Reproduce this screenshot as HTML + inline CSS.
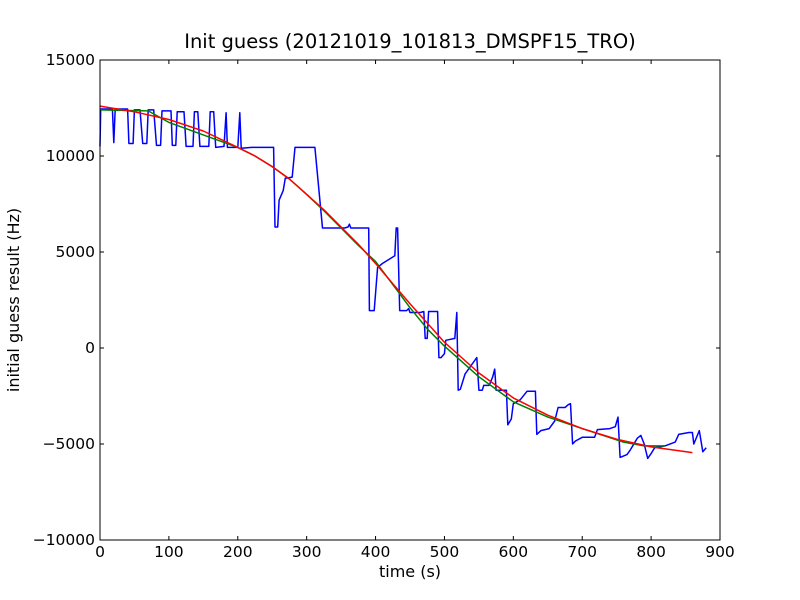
<!DOCTYPE html>
<html><head><meta charset="utf-8"><style>
body{margin:0;background:#fff}
svg{display:block;font-family:"DejaVu Sans","Liberation Sans",sans-serif}
</style></head><body>
<svg id="chart" width="800" height="600" viewBox="0 0 800 600">
<rect width="800" height="600" fill="#fff"/>
<text x="410" y="48" font-size="19.5" text-anchor="middle">Init guess (20121019_101813_DMSPF15_TRO)</text>
<g id="plot"></g>
<rect x="100" y="60" width="620" height="480" fill="none" stroke="#000" stroke-width="1"/>
<text x="410" y="577" font-size="16" text-anchor="middle">time (s)</text>
<text transform="translate(19,300) rotate(-90)" font-size="16" text-anchor="middle">initial guess result (Hz)</text>
</svg>
<script>
const xTicks=[0,100,200,300,400,500,600,700,800,900];
const yTicks=[15000,10000,5000,0,-5000,-10000];
const yTickLabels=["15000","10000","5000","0","\u22125000","\u221210000"];
const blueT=[0,1,18,20,22,40,42,48,50,58,62,68,70,78,82,88,90,103,105,110,112,122,125,135,137,142,145,158,160,165,168,180,183,185,200,203,205,220,252,254,258,260,266,269,271,279,283,312,323,355,360,362,364,390,391,398,403,410,428,430,432,435,445,448,450,465,470,472,475,477,490,492,495,500,502,515,518,520,523,530,545,547,550,555,557,565,570,573,575,590,592,597,600,610,620,632,634,640,652,660,665,675,680,683,686,690,700,718,722,740,748,752,755,765,770,780,785,790,795,800,805,820,835,840,855,860,862,870,875,880];
const blueV=[10500,12450,12450,10700,12450,12450,10650,10650,12400,12400,10650,10650,12400,12400,10550,10550,12350,12350,10550,10550,12300,12300,10500,10500,12300,12300,10500,10500,12300,12300,10450,10500,12250,10450,10450,12250,10400,10450,10450,6300,6300,7700,8200,8850,8850,8900,10450,10450,6250,6250,6300,6450,6250,6250,1950,1950,4200,4400,4800,6250,6250,1950,1950,2050,1850,1850,1900,500,500,1900,1900,-500,-500,-300,400,500,1850,-2200,-2150,-1350,-600,-500,-2200,-2200,-1950,-1950,-1500,-1100,-2200,-2200,-4000,-3700,-2900,-2700,-2250,-2250,-4500,-4300,-4200,-3800,-3100,-3100,-2950,-2900,-5000,-4850,-4650,-4650,-4250,-4200,-4100,-3600,-5700,-5550,-5300,-4700,-4550,-5000,-5750,-5500,-5200,-5100,-4900,-4500,-4400,-4400,-5000,-4300,-5400,-5200];
const greenT=[0,70,100,150,200,225,250,275,300,325,350,375,400,425,450,475,500,550,600,650,700,760,790,820];
const greenV=[12400,12350,11750,11100,10450,10000,9450,8800,8000,7150,6250,5350,4500,3300,2100,1000,100,-1500,-2800,-3600,-4200,-4900,-5100,-5100];
const redT=[0,50,100,150,200,225,250,275,300,325,350,375,400,425,450,475,500,550,600,650,700,750,800,860];
const redV=[12600,12300,11900,11300,10450,10000,9450,8800,8000,7200,6300,5400,4400,3350,2300,1300,300,-1300,-2600,-3500,-4200,-4750,-5150,-5450];
const X=t=>100+t/900*620;
const Y=v=>348-v/1000*19.2;
const NS="http://www.w3.org/2000/svg";
const g=document.getElementById('plot');
function mk(tag,attrs){const e=document.createElementNS(NS,tag);for(const k in attrs)e.setAttribute(k,attrs[k]);g.appendChild(e);return e;}
xTicks.forEach(t=>{
  const l1=mk('line',{x1:X(t),x2:X(t),y1:540,y2:536,stroke:'#000'});
  
  
  const l2=mk('line',{x1:X(t),x2:X(t),y1:60,y2:64,stroke:'#000'});
  
  
  const tx=mk('text',{x:X(t),y:557,'font-size':15.5,'text-anchor':'middle'});tx.textContent=t;
  
  
});
yTicks.forEach((v,i)=>{
  const l1=mk('line',{x1:100,x2:104,y1:Y(v),y2:Y(v),stroke:'#000'});
  
  
  const l2=mk('line',{x1:716,x2:720,y1:Y(v),y2:Y(v),stroke:'#000'});
  
  
  const tx=mk('text',{x:95,y:Y(v)+5,'font-size':15.5,'text-anchor':'end'});tx.textContent=yTickLabels[i];
  
  
});
function line(T,V,color,name){
  const d=T.map((t,i)=>(i?'L':'M')+X(t).toFixed(1)+' '+Y(V[i]).toFixed(1)).join(' ');
  const p=mk('path',{d:d,fill:'none',stroke:color,'stroke-width':1.5,'stroke-linejoin':'round'});
  
  
}
line(blueT,blueV,'#0000ff','blue-series-line');
line(greenT,greenV,'#008000','green-series-line');
line(redT,redV,'#ff0000','red-series-line');
</script>
</body></html>
